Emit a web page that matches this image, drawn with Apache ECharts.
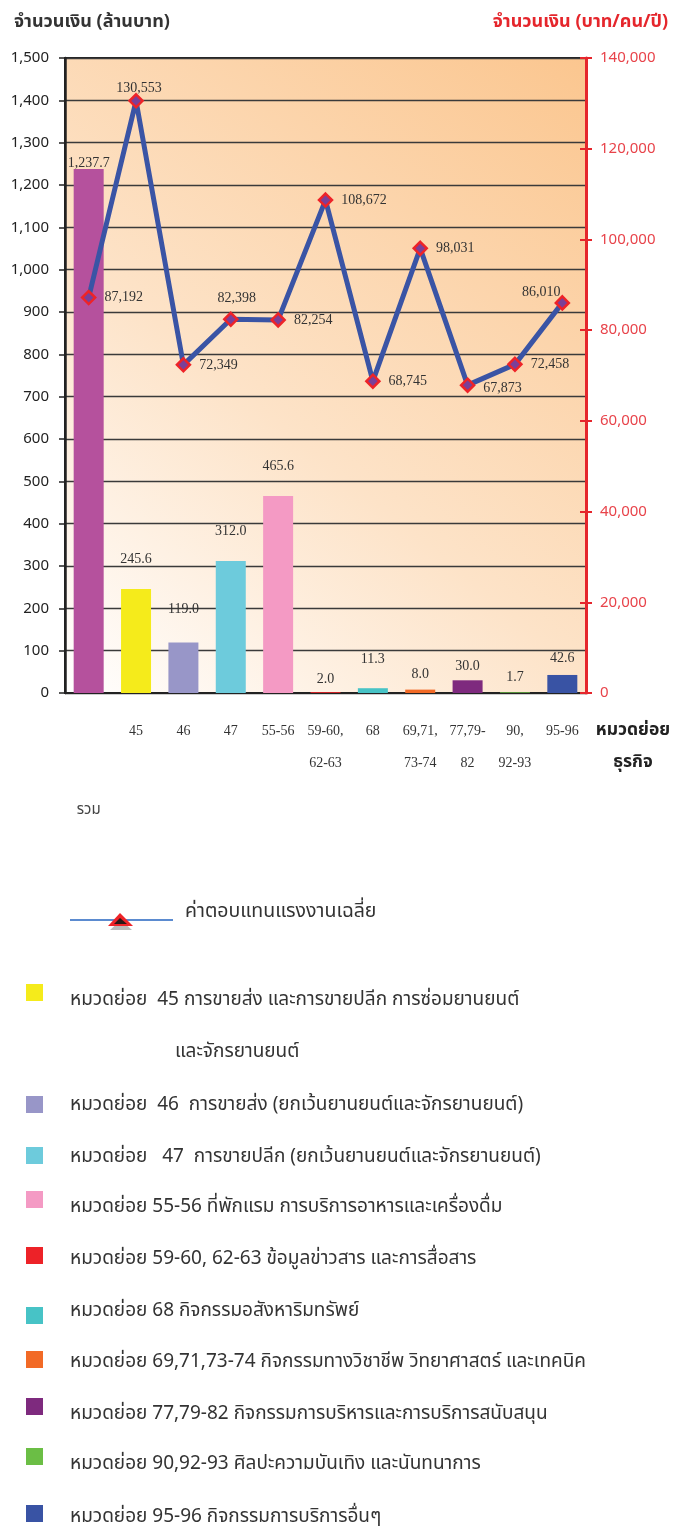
<!DOCTYPE html>
<html><head><meta charset="utf-8">
<script src="https://cdn.jsdelivr.net/npm/echarts@6/dist/echarts.min.js"></script>
<style>html,body{margin:0;padding:0;background:#fff}#c{width:675px;height:1528px}</style>
</head><body><div id="c"></div>
<script>
// ---------- data ----------
const categories = ['รวม','45','46','47','55-56','59-60,\n62-63','68','69,71,\n73-74','77,79-\n82','90,\n92-93','95-96'];
const amountMillionBaht = [1237.7,245.6,119.0,312.0,465.6,2.0,11.3,8.0,30.0,1.7,42.6];
const avgCompensation = [87192,130553,72349,82398,82254,108672,68745,98031,67873,72458,86010];
const leftAxisTitle = 'จำนวนเงิน (ล้านบาท)';
const rightAxisTitle = 'จำนวนเงิน (บาท/คน/ปี)';
const xAxisTitleLines = ['หมวดย่อย','ธุรกิจ'];
const lineSeriesName = 'ค่าตอบแทนแรงงานเฉลี่ย';
const legendLabels = [
  'หมวดย่อย  45 การขายส่ง และการขายปลีก การซ่อมยานยนต์',
  'หมวดย่อย  46  การขายส่ง (ยกเว้นยานยนต์และจักรยานยนต์)',
  'หมวดย่อย   47  การขายปลีก (ยกเว้นยานยนต์และจักรยานยนต์)',
  'หมวดย่อย 55-56 ที่พักแรม การบริการอาหารและเครื่องดื่ม',
  'หมวดย่อย 59-60, 62-63 ข้อมูลข่าวสาร และการสื่อสาร',
  'หมวดย่อย 68 กิจกรรมอสังหาริมทรัพย์',
  'หมวดย่อย 69,71,73-74 กิจกรรมทางวิชาชีพ วิทยาศาสตร์ และเทคนิค',
  'หมวดย่อย 77,79-82 กิจกรรมการบริหารและการบริการสนับสนุน',
  'หมวดย่อย 90,92-93 ศิลปะความบันเทิง และนันทนาการ',
  'หมวดย่อย 95-96 กิจกรรมการบริการอื่นๆ'
];
const legendContinuation = 'และจักรยานยนต์';

// ---------- styles ----------
const barColors = ['#B5519D','#F5EB1B','#9896C8','#6DCBDC','#F49AC4','#ED2228','#47C3C6','#F26A26','#7E2A7E','#6BBE45','#3953A4'];
const barLabelGap = [-1,23,26,23,23,6,22,8,7,8,10];
const lineLabelPos = ['right','top','right','top','right','right','right','right','right','right','top'];
const lineLabelShift = [[0,0],[3,10],[0,0],[6,2],[0,0],[0,0],[0,0],[0,0],[0,3],[0,0],[-21,12]];
const THAI = "'Noto Sans Thai','Tahoma','Noto Sans',sans-serif";
const SERIF = "'Liberation Serif','Times New Roman',serif";
const SANS = "'Noto Sans','Open Sans',sans-serif";
const RED = '#E5262C';

const chart = echarts.init(document.getElementById('c'), null, {renderer:'canvas'});

const legendRowY = [1001,1106,1158,1208,1260,1312,1363,1415,1465,1518];
const legendSquareY = [993,1105,1156,1200,1256,1316,1360,1407,1457,1514];
const graphics = [];
// line legend
graphics.push({type:'line', shape:{x1:70,y1:920,x2:173,y2:920}, style:{stroke:'#5B8BD0', lineWidth:2}, z:10});
graphics.push({type:'polygon', shape:{points:[[110,930],[121,920],[132,930]]}, style:{fill:'#BBBBBB'}, z:10});
graphics.push({type:'polygon', shape:{points:[[108,926],[120,913],[133,926]]}, style:{fill:'#EE2328'}, z:11});
graphics.push({type:'polygon', shape:{points:[[114,924],[120,918],[127,924]]}, style:{fill:'#2A1616'}, z:12});
graphics.push({type:'text', x:185, y:913, style:{text:lineSeriesName, font:'19.5px '+THAI, fill:'#333', verticalAlign:'middle'}, z:10});
legendLabels.forEach((t,i)=>{
  graphics.push({type:'rect', shape:{x:26,y:legendSquareY[i]-9,width:17,height:17}, style:{fill:barColors[i+1]}, z:10});
  graphics.push({type:'text', x:70, y:legendRowY[i], style:{text:t, font:'19px '+THAI, fill:'#333', verticalAlign:'middle'}, z:10});
});
graphics.push({type:'text', x:175, y:1053, style:{text:legendContinuation, font:'19px '+THAI, fill:'#333', verticalAlign:'middle'}, z:10});

const option = {
  animation:false,
  backgroundColor:'#ffffff',
  title:[
    {text:leftAxisTitle, left:9, top:9, textStyle:{fontFamily:THAI, fontSize:18, fontWeight:'bold', color:'#333'}},
    {text:rightAxisTitle, right:2, top:9, textStyle:{fontFamily:THAI, fontSize:18, fontWeight:'bold', color:RED}}
  ],
  grid:{left:65, right:89, top:58, bottom:835, containLabel:false, outerBoundsMode:'none',
    show:true, borderWidth:2, borderColor:'#222',
    backgroundColor: new echarts.graphic.LinearGradient(0,1,1,0,[
      {offset:0,color:'#FFFFFF'},{offset:0.42,color:'#FDE3C8'},{offset:1,color:'#FBC68F'}])},
  xAxis:{type:'category', data:categories, boundaryGap:true,
    name: xAxisTitleLines.map(s=>'{a|'+s+'}').join('\n'), nameLocation:'end', nameGap:10,
    nameTextStyle:{verticalAlign:'top', padding:[22,0,0,0],
      rich:{a:{fontFamily:THAI, fontSize:17.5, fontWeight:'bold', color:'#222', width:74, align:'center', lineHeight:32}}},
    axisLine:{lineStyle:{color:'#222', width:2}},
    axisTick:{length:7, lineStyle:{color:'#222', width:1.5}},
    axisLabel:{interval:0, margin:22, fontFamily:SERIF, fontSize:14, color:'#333', lineHeight:32,
      formatter:(v,i)=> i===0 ? '{sp|\u00a0}\n{th|'+v+'}' : v,
      rich:{sp:{lineHeight:86, fontSize:10}, th:{fontFamily:THAI, fontSize:15, color:'#444', lineHeight:20}}}
  },
  yAxis:[
    {type:'value', min:0, max:1500, interval:100, position:'left',
      axisLine:{show:true, lineStyle:{color:'#222', width:2.5}},
      axisTick:{show:true, length:6, lineStyle:{color:'#222', width:1.5}},
      axisLabel:{margin:16, fontFamily:SANS, fontSize:15, color:'#222', formatter:v=>v.toLocaleString('en-US')},
      splitLine:{show:true, lineStyle:{color:'#3a3a3a', width:1.3}}},
    {type:'value', min:0, max:140000, interval:20000, position:'right',
      axisLine:{show:true, lineStyle:{color:RED, width:3}},
      axisTick:{show:true, length:6, lineStyle:{color:RED, width:2}},
      axisLabel:{margin:14, fontFamily:SANS, fontSize:15, color:'#E8434A', formatter:v=>v.toLocaleString('en-US')},
      splitLine:{show:false}},
    {type:'value', min:0, max:140000, interval:20000, position:'right',
      axisLine:{show:false}, axisLabel:{show:false}, splitLine:{show:false},
      axisTick:{show:true, inside:true, length:6, lineStyle:{color:RED, width:2}}}
  ],
  graphic:graphics,
  series:[
    {type:'bar', name:'amount', yAxisIndex:0, barWidth:30,
      data: amountMillionBaht.map((v,i)=>({value:v, itemStyle:{color:barColors[i]}, label:{distance:barLabelGap[i]}})),
      label:{show:true, position:'top', fontFamily:SERIF, fontSize:14, color:'#333',
        formatter:p=>p.value.toLocaleString('en-US',{minimumFractionDigits:1, maximumFractionDigits:1})}},
    {type:'line', name:lineSeriesName, yAxisIndex:1, z:5,
      data: avgCompensation.map((v,i)=>({value:v, label:{position:lineLabelPos[i], offset:lineLabelShift[i]}})),
      lineStyle:{color:'#3A54A5', width:5}, symbol:'diamond', symbolSize:13,
      itemStyle:{color:'#7B3F98', borderColor:'#EE2328', borderWidth:2.5},
      label:{show:true, distance:8, fontFamily:SERIF, fontSize:14, color:'#333', formatter:p=>p.value.toLocaleString('en-US')}}
  ]
};
chart.setOption(option);
</script></body></html>
